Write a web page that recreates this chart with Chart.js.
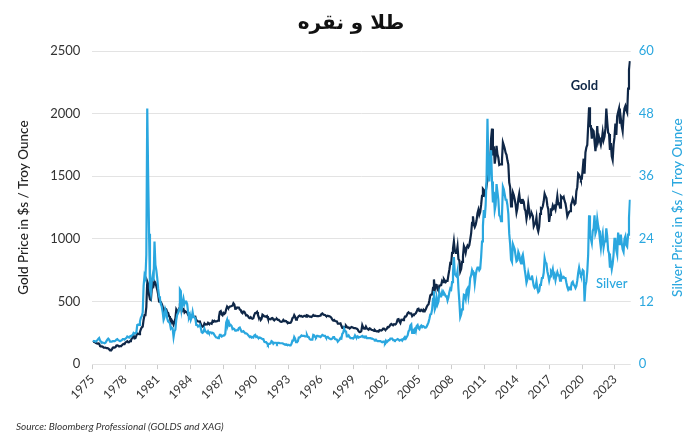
<!DOCTYPE html>
<html>
<head>
<meta charset="utf-8">
<script src="https://cdn.jsdelivr.net/npm/chart.js@4.4.1/dist/chart.umd.min.js"></script>
<style>
  html, body { margin: 0; padding: 0; background: #fff; }
  #wrap { width: 700px; height: 447px; }
</style>
</head>
<body>
<div id="wrap"><canvas id="gold-silver"></canvas></div>
<script>
// monthly values, starting January 1975
var startYear = 1975;
var xTicks = [1975, 1978, 1981, 1984, 1987, 1990, 1993, 1996, 1999, 2002, 2005, 2008, 2011, 2014, 2017, 2020, 2023];
var goldTicks = [0, 500, 1000, 1500, 2000, 2500];
var silverTicks = [0, 12, 24, 36, 48, 60];

// GOLD ($/oz)
var gold = [
  176, 180, 178, 170, 167, 164, 165, 163, 144, 142, 142, 139,
  131, 131, 132, 128, 128, 125, 118, 109, 114, 116, 131, 134,
  132, 136, 148, 149, 147, 141, 143, 145, 149, 158, 161, 160,
  173, 178, 183, 175, 176, 183, 188, 206, 212, 227, 206, 208,
  227, 245, 242, 239, 257, 279, 294, 300, 355, 392, 392, 456,
  660, 640, 553, 517, 513, 600, 644, 627, 660, 650, 623, 595,
  557, 500, 499, 495, 480, 460, 409, 410, 443, 437, 413, 410,
  384, 374, 330, 350, 334, 315, 339, 364, 436, 422, 414, 444,
  481, 491, 421, 432, 438, 413, 422, 416, 412, 394, 382, 388,
  370, 386, 394, 381, 377, 378, 348, 348, 341, 340, 341, 320,
  303, 299, 304, 325, 316, 317, 317, 330, 323, 326, 325, 322,
  345, 339, 346, 340, 342, 343, 348, 376, 418, 423, 397, 390,
  408, 401, 408, 438, 460, 450, 450, 460, 460, 465, 467, 486,
  477, 442, 443, 452, 451, 451, 437, 432, 413, 406, 420, 419,
  404, 388, 390, 384, 371, 367, 375, 365, 362, 367, 394, 409,
  410, 417, 393, 374, 369, 352, 362, 395, 389, 381, 381, 378,
  384, 364, 363, 358, 357, 367, 368, 356, 349, 358, 360, 361,
  354, 354, 345, 338, 337, 341, 353, 343, 345, 344, 335, 334,
  329, 329, 330, 342, 367, 372, 392, 379, 355, 364, 373, 383,
  387, 382, 384, 378, 381, 385, 385, 380, 391, 389, 384, 379,
  379, 376, 382, 391, 385, 387, 386, 383, 383, 383, 386, 387,
  400, 405, 396, 393, 392, 385, 383, 387, 383, 381, 378, 369,
  355, 347, 352, 344, 344, 341, 324, 324, 323, 325, 306, 289,
  289, 297, 296, 308, 299, 292, 293, 284, 289, 296, 294, 291,
  287, 288, 286, 282, 277, 262, 256, 257, 265, 311, 293, 283,
  285, 300, 286, 280, 275, 285, 282, 275, 273, 270, 266, 272,
  265, 262, 263, 260, 272, 270, 268, 273, 283, 283, 276, 275,
  282, 296, 294, 302, 314, 321, 314, 310, 319, 317, 319, 333,
  357, 359, 340, 328, 355, 356, 351, 360, 379, 379, 389, 407,
  414, 405, 406, 404, 384, 392, 398, 400, 406, 420, 439, 442,
  424, 423, 434, 429, 422, 431, 424, 438, 456, 470, 476, 510,
  549, 555, 557, 610, 676, 596, 633, 632, 598, 586, 628, 629,
  631, 665, 655, 679, 667, 655, 665, 665, 712, 754, 806, 803,
  889, 922, 980, 909, 888, 889, 939, 839, 829, 740, 760, 816,
  858, 943, 924, 890, 928, 946, 934, 949, 996, 1043, 1127, 1180,
  1117, 1095, 1113, 1148, 1205, 1232, 1193, 1215, 1271, 1343, 1400, 1391,
  1356, 1372, 1424, 1474, 1510, 1528, 1600, 1800, 1880, 1665, 1739, 1600,
  1656, 1743, 1675, 1649, 1591, 1596, 1594, 1630, 1770, 1747, 1721, 1688,
  1671, 1627, 1593, 1450, 1414, 1260, 1286, 1370, 1349, 1316, 1275, 1210,
  1244, 1320, 1360, 1299, 1287, 1310, 1311, 1296, 1239, 1222, 1160, 1201,
  1280, 1227, 1179, 1198, 1199, 1181, 1100, 1117, 1125, 1170, 1086, 1060,
  1097, 1200, 1246, 1242, 1260, 1300, 1360, 1340, 1326, 1267, 1236, 1135,
  1192, 1234, 1231, 1266, 1246, 1260, 1236, 1283, 1340, 1280, 1283, 1250,
  1340, 1331, 1325, 1335, 1303, 1282, 1238, 1180, 1199, 1215, 1221, 1270,
  1291, 1320, 1300, 1276, 1284, 1380, 1413, 1520, 1511, 1495, 1471, 1480,
  1560, 1640, 1520, 1690, 1730, 1750, 1900, 2050, 1900, 1900, 1800, 1870,
  1860, 1780, 1700, 1770, 1900, 1780, 1810, 1780, 1750, 1790, 1850, 1790,
  1817, 1880, 2040, 1937, 1849, 1837, 1710, 1765, 1660, 1630, 1750, 1810,
  1920, 1830, 1980, 2010, 2040, 1920, 1960, 1900, 1860, 1980, 2040, 2060,
  2030, 2010, 2200, 2350, 2420
];

// SILVER ($/oz)
var silver = [
  4.5, 4.4, 4.4, 4.3, 4.4, 4.6, 4.8, 5.0, 4.5, 4.3, 4.2, 4.1,
  4.1, 4.0, 4.1, 4.4, 4.7, 4.9, 4.7, 4.3, 4.3, 4.3, 4.4, 4.4,
  4.4, 4.5, 4.7, 4.8, 4.6, 4.5, 4.4, 4.4, 4.6, 4.8, 4.8, 4.7,
  4.9, 5.0, 5.3, 5.2, 5.1, 5.3, 5.4, 5.5, 5.6, 6.0, 5.9, 5.9,
  6.1, 7.5, 7.6, 7.5, 8.2, 8.9, 9.2, 9.9, 15.0, 17.0, 16.5, 21.0,
  49.0, 36.0, 25.0, 14.5, 13.5, 16.0, 17.0, 16.0, 23.5, 19.0, 18.0, 16.5,
  14.5, 13.0, 12.5, 11.5, 11.0, 10.0, 8.5, 9.0, 10.5, 10.0, 8.8, 8.2,
  8.0, 7.8, 6.8, 7.0, 6.8, 5.2, 6.3, 6.6, 8.5, 9.5, 9.8, 10.5,
  14.3, 14.0, 10.5, 11.5, 12.5, 11.5, 12.0, 12.0, 11.5, 10.0, 9.0, 9.5,
  8.5, 9.0, 10.0, 9.0, 9.0, 8.8, 7.5, 7.5, 7.2, 7.2, 7.5, 6.9,
  6.1, 6.0, 6.2, 6.8, 6.3, 6.2, 6.0, 6.3, 6.0, 6.1, 6.1, 5.9,
  6.0, 5.9, 5.6, 5.3, 5.1, 5.1, 5.0, 5.1, 5.6, 5.6, 5.3, 5.4,
  5.5, 5.5, 5.8, 8.0, 8.5, 7.5, 8.0, 7.4, 7.5, 7.3, 6.7, 6.8,
  6.7, 6.4, 6.4, 6.5, 6.6, 6.9, 7.0, 6.6, 6.2, 6.2, 6.3, 6.1,
  5.9, 5.9, 5.8, 5.8, 5.4, 5.2, 5.3, 5.1, 5.2, 5.1, 5.5, 5.6,
  5.2, 5.3, 5.1, 5.0, 5.1, 5.0, 4.9, 4.8, 4.8, 4.3, 4.2, 4.2,
  4.0, 3.7, 3.9, 3.9, 4.0, 4.4, 4.3, 3.9, 4.1, 4.1, 4.1, 3.9,
  4.1, 4.1, 4.0, 4.0, 4.0, 4.0, 3.9, 3.8, 3.7, 3.8, 3.7, 3.7,
  3.7, 3.6, 3.6, 3.9, 4.5, 4.5, 5.2, 4.9, 4.2, 4.3, 4.4, 5.1,
  5.1, 5.3, 5.5, 5.4, 5.4, 5.4, 5.3, 5.3, 5.6, 5.2, 5.2, 4.8,
  4.7, 4.7, 4.7, 5.6, 5.5, 5.2, 5.1, 5.4, 5.4, 5.3, 5.3, 5.2,
  5.4, 5.6, 5.5, 5.4, 5.4, 5.1, 5.1, 5.2, 5.0, 4.9, 4.8, 4.8,
  4.9, 5.2, 5.2, 4.8, 4.8, 4.7, 4.3, 4.5, 4.7, 5.0, 4.9, 5.8,
  6.0, 6.8, 6.3, 6.4, 5.3, 5.3, 5.5, 5.2, 5.0, 5.0, 5.0, 4.9,
  5.1, 5.5, 5.2, 5.1, 5.3, 5.1, 5.2, 5.2, 5.3, 5.4, 5.2, 5.3,
  5.2, 5.3, 5.0, 5.0, 5.0, 5.0, 5.0, 4.9, 4.9, 4.8, 4.7, 4.6,
  4.7, 4.5, 4.4, 4.4, 4.4, 4.4, 4.3, 4.2, 4.3, 4.3, 4.1, 4.5,
  4.2, 4.4, 4.6, 4.6, 4.9, 4.9, 4.9, 4.6, 4.6, 4.5, 4.6, 4.7,
  4.8, 4.7, 4.5, 4.6, 4.7, 4.5, 4.8, 5.0, 5.2, 4.9, 5.2, 5.5,
  6.3, 6.5, 7.4, 7.6, 6.0, 6.0, 6.6, 6.8, 6.3, 7.3, 7.5, 6.9,
  6.7, 7.2, 7.4, 7.1, 7.3, 7.2, 7.0, 7.0, 7.2, 7.6, 8.0, 8.7,
  9.5, 9.6, 10.5, 12.5, 14.0, 10.5, 11.0, 12.7, 11.5, 12.0, 13.7, 13.0,
  13.0, 13.8, 13.3, 13.7, 13.4, 13.0, 13.0, 12.2, 12.8, 13.8, 14.5, 14.3,
  15.7, 17.5, 20.5, 17.3, 17.0, 16.8, 17.8, 14.5, 12.0, 9.0, 9.5, 10.5,
  11.3, 13.3, 13.2, 12.5, 14.2, 14.5, 13.0, 14.5, 16.5, 17.0, 18.0, 17.5,
  17.5, 15.5, 17.0, 18.0, 18.5, 18.5, 18.0, 18.3, 20.5, 23.5, 26.5, 29.5,
  28.0, 30.5, 35.5, 47.0, 38.0, 35.0, 39.5, 41.0, 35.0, 31.0, 33.0, 29.5,
  30.5, 34.5, 33.0, 31.5, 28.5, 28.3, 27.4, 28.5, 34.0, 33.5, 32.5, 31.5,
  31.5, 30.5, 28.8, 25.0, 23.0, 20.0, 19.6, 23.0, 22.5, 22.0, 20.8, 19.7,
  19.9, 21.5, 21.0, 19.8, 19.3, 20.5, 21.0, 19.8, 18.2, 17.0, 15.6, 16.2,
  17.5, 16.7, 16.3, 16.3, 17.0, 16.0, 15.0, 14.6, 14.8, 15.8, 14.5, 13.8,
  14.0, 15.2, 15.4, 16.5, 16.5, 17.5, 20.3, 19.5, 19.3, 17.8, 17.0, 16.0,
  16.8, 17.8, 17.5, 18.2, 16.8, 17.2, 16.1, 17.0, 17.6, 17.0, 17.0, 16.0,
  17.2, 16.6, 16.5, 16.7, 16.5, 16.5, 15.6, 14.8, 14.3, 14.6, 14.3, 14.7,
  15.6, 15.8, 15.2, 15.0, 14.6, 15.0, 16.0, 17.5, 18.5, 17.6, 17.0, 17.2,
  18.0, 17.8, 12.0, 15.0, 15.8, 17.7, 21.0, 28.5, 24.5, 24.0, 23.2, 25.5,
  26.0, 28.5, 25.0, 25.6, 27.8, 26.5, 25.6, 23.8, 22.3, 24.0, 25.0, 22.4,
  23.5, 23.5, 26.0, 24.5, 21.8, 21.2, 18.5, 19.5, 18.2, 19.2, 21.0, 24.0,
  24.0, 21.8, 21.0, 25.2, 24.0, 22.8, 24.8, 23.2, 22.0, 21.5, 24.0, 24.5,
  22.8, 22.5, 24.8, 28.0, 31.5
];

var goldColor = '#0f2747';
var silverColor = '#2aa7df';
var silverTitle = 'Silver Price in $s / Troy Ounce';

function toPoints(values) {
  return values.map(function (v, i) {
    return { x: startYear + (i + 0.5) / 12, y: v };
  });
}

// "Gold" / "Silver" labels and the right axis title (reads bottom to top like the left one)
var seriesLabels = {
  id: 'seriesLabels',
  afterDatasetsDraw: function (chart) {
    var c = chart.ctx;
    var x = chart.scales.x;
    var r = chart.scales.y1;
    c.save();
    c.textAlign = 'center';
    c.textBaseline = 'alphabetic';
    c.font = 'bold 13px Lato';
    c.fillStyle = goldColor;
    c.fillText('Gold', x.getPixelForValue(2020.2), chart.scales.y.getPixelForValue(2190));
    c.font = '500 13px Lato';
    c.fillStyle = silverColor;
    c.fillText('Silver', x.getPixelForValue(2022.7), r.getPixelForValue(14.6));

    c.translate(r.right - 8, (r.top + r.bottom) / 2);
    c.rotate(-Math.PI / 2);
    c.textBaseline = 'middle';
    c.font = '500 13.5px Lato';
    c.fillText(silverTitle, 0, 0);
    c.restore();
  }
};

var ctx = document.getElementById('gold-silver').getContext('2d');
var goldSilver = new Chart(ctx, {
    type: 'line',
    data: {
        datasets: [{
            label: 'Silver',
            data: toPoints(silver),
            yAxisID: 'y1',
            borderColor: silverColor,
            borderWidth: 2.2,
            pointRadius: 0,
            tension: 0
        }, {
            label: 'Gold',
            data: toPoints(gold),
            yAxisID: 'y',
            borderColor: goldColor,
            borderWidth: 2.2,
            pointRadius: 0,
            tension: 0
        }]
    },
    options: {
        responsive: true,
        maintainAspectRatio: false,
        animation: false,
        layout: { padding: { left: 16, right: 14, top: 4, bottom: 10 } },
        plugins: {
            legend: { display: false },
            tooltip: { enabled: false },
            title: {
                display: true,
                text: 'طلا و نقره',
                color: '#111',
                font: { family: 'DejaVu Sans', size: 20, weight: 'bold' },
                padding: { top: 8, bottom: 15 }
            },
            subtitle: {
                display: true,
                position: 'bottom',
                align: 'start',
                text: 'Source: Bloomberg Professional (GOLDS and XAG)',
                color: '#333',
                font: { family: 'Lato', size: 10, style: 'italic' },
                padding: { top: 16, bottom: 4 }
            }
        },
        scales: {
            x: {
                type: 'linear',
                min: startYear,
                max: 2024.45,
                afterBuildTicks: function (axis) {
                    axis.ticks = xTicks.map(function (v) { return { value: v }; });
                },
                ticks: {
                    minRotation: 45,
                    maxRotation: 45,
                    color: '#333',
                    font: { family: 'Lato', size: 12 },
                    callback: function (v) { return String(v); }
                },
                grid: { drawOnChartArea: false, drawTicks: true, tickLength: 5, color: '#cccccc' },
                border: { display: false }
            },
            y: {
                position: 'left',
                min: 0,
                max: 2500,
                afterBuildTicks: function (axis) {
                    axis.ticks = goldTicks.map(function (v) { return { value: v }; });
                },
                ticks: {
                    color: '#333',
                    font: { family: 'Lato', size: 13 },
                    padding: 12,
                    callback: function (v) { return String(v); }
                },
                grid: { color: '#e3e3e3', drawTicks: false },
                border: { display: false },
                title: {
                    display: true,
                    text: 'Gold Price in $s / Troy Ounce',
                    color: '#222',
                    font: { family: 'Lato', size: 13.5, weight: '500' },
                    padding: { top: 0, bottom: 6 }
                }
            },
            y1: {
                position: 'right',
                min: 0,
                max: 60,
                afterBuildTicks: function (axis) {
                    axis.ticks = silverTicks.map(function (v) { return { value: v }; });
                },
                ticks: {
                    color: silverColor,
                    font: { family: 'Lato', size: 13 },
                    padding: 8,
                    callback: function (v) { return String(v); }
                },
                grid: { drawOnChartArea: false, drawTicks: false },
                border: { display: false },
                title: {
                    display: true,
                    text: silverTitle,
                    color: 'rgba(0,0,0,0)',
                    font: { family: 'Lato', size: 13.5, weight: '500' },
                    padding: { top: 8, bottom: 0 }
                }
            }
        }
    },
    plugins: [seriesLabels]
});
</script>
</body>
</html>
